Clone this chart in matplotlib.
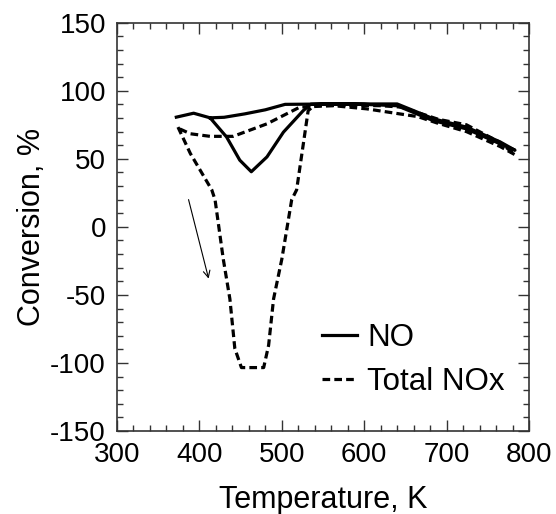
import matplotlib
matplotlib.use("Agg")
import matplotlib.pyplot as plt
from matplotlib.ticker import MultipleLocator

plt.rcParams['font.family'] = ['Liberation Sans', 'DejaVu Sans']
plt.rcParams['axes.unicode_minus'] = False

# NO conversion (heating then cooling branch)
no_T = [372, 393, 413, 433, 449, 463, 482, 502, 526, 535, 560, 600, 640, 660, 684, 724, 765, 783,
        765, 724, 684, 660, 640, 600, 560, 504, 480, 455, 430, 413]
no_C = [80.6, 83.5, 80.1, 66, 49, 40.5, 51.4, 69.6, 85.4, 90, 90.3, 90.3, 90.3, 85.4, 79.4, 73.3, 62.4, 56.3,
        61, 72, 78, 84, 89, 90, 90.3, 90, 86, 83, 80.5, 80.1]

# Total NOx conversion (heating then cooling branch)
nox_T = [374, 389, 415, 419, 429, 437, 443, 451, 478, 484, 490, 500, 512, 518, 532, 540, 580, 620, 645,
         665, 690, 724, 765, 783,
         765, 724, 690, 665, 643, 603, 563, 522, 482, 441, 413, 389, 376]
nox_C = [73.3, 53.9, 27.2, 19.9, -23.8, -53, -89.4, -103.4, -103.4, -87, -53, -23.8, 19.9, 27.2, 85.4, 89.5, 89.5, 89, 88,
         84, 79, 75, 62, 53,
         59, 70, 76, 81, 83, 86.7, 89, 88, 75.7, 66.5, 66.5, 68.4, 72]

legend_labels = ["NO", "Total NOx"]

fig = plt.figure(figsize=(5.56, 5.14), dpi=100)
ax = fig.add_axes([117/556, 1 - 431/514, (529 - 117)/556, (431 - 22.7)/514])

ax.plot(no_T, no_C, color='black', lw=2.3, ls='-', label=legend_labels[0], solid_joinstyle='round')
ax.plot(nox_T, nox_C, color='black', lw=2.3, ls=(0, (2.4, 1.3)), label=legend_labels[1])

ax.annotate('', xy=(412, -40), xytext=(386, 22),
            arrowprops=dict(arrowstyle='->', color='black', lw=0.8, mutation_scale=12))

ax.set_xlim(300, 800)
ax.set_ylim(-150, 150)
ax.xaxis.set_major_locator(MultipleLocator(100))
ax.xaxis.set_minor_locator(MultipleLocator(20))
ax.yaxis.set_major_locator(MultipleLocator(50))
ax.yaxis.set_minor_locator(MultipleLocator(10))
ax.tick_params(which='both', direction='in', top=True, right=True, labelsize=20, color='#333333')
ax.tick_params(which='major', length=8, width=1, pad=8)
ax.tick_params(which='minor', length=4, width=1)
for s in ax.spines.values():
    s.set_linewidth(1.2)
    s.set_color('#333333')

ax.set_xlabel('Temperature, K', fontsize=22, labelpad=12)
ax.set_ylabel('Conversion, %', fontsize=22, labelpad=2)

leg = ax.legend(loc='upper left', bbox_to_anchor=((322 - 117) / 412, (431 - 323) / 408.3),
                borderaxespad=0, borderpad=0, frameon=False, fontsize=22.5,
                handlelength=1.12, handletextpad=0.32, labelspacing=0.46)

fig.savefig('out.png', dpi=100)
